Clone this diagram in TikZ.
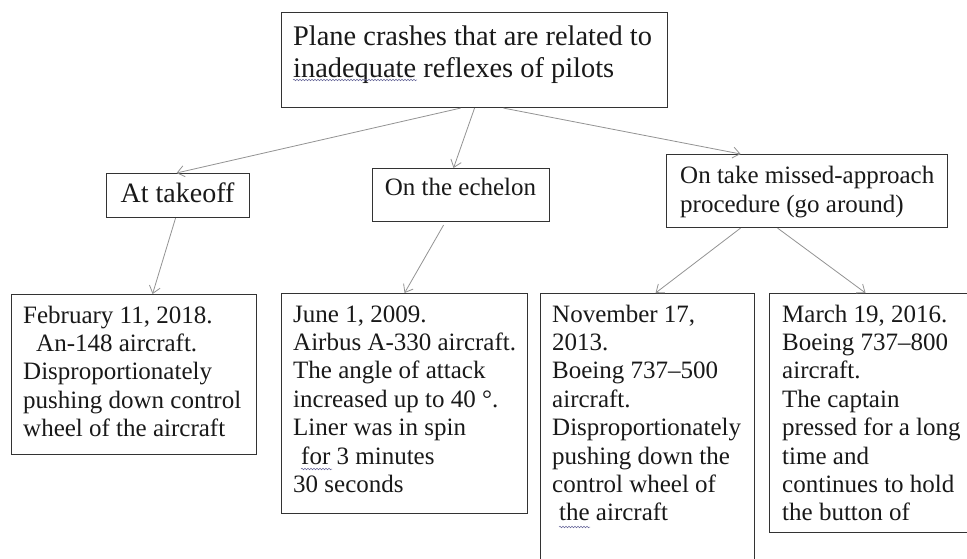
\documentclass[tikz,border=0pt]{standalone}
\usepackage{fontspec}
\setmainfont{Liberation Serif}
\usetikzlibrary{arrows.meta,decorations.pathmorphing}
\begin{document}
\begin{tikzpicture}[x=1pt,y=-1pt,
  boxst/.style={draw=black!80, line width=1.1pt, inner sep=0pt, anchor=north west},
  txtbig/.style={inner sep=0pt, anchor=north west, align=left, text=black!90, font=\fontsize{28.4}{32}\selectfont},
  txt/.style={inner sep=0pt, anchor=north west, align=left, text=black!90, font=\fontsize{25}{28.4}\selectfont},
  lbl/.style={inner sep=0pt, anchor=base, text=black!90},
  conn/.style={draw=gray!85, line width=0.8pt, -{Straight Barb[length=7pt,width=11pt]}},
  squig/.style={draw=gray!80!blue, line width=0.5pt, decorate, decoration={snake, amplitude=0.8pt, segment length=3pt}}
]
\useasboundingbox (0,0) rectangle (967,559);
\clip (0,0) rectangle (967,559);
\fill[white] (0,0) rectangle (967,559);

% boxes
\node[boxst, minimum width=386pt, minimum height=95pt] (top) at (281,12) {};
\node[boxst, minimum width=143pt, minimum height=44pt] (takeoff) at (106,173) {};
\node[boxst, minimum width=177pt, minimum height=53pt] (echelon) at (372,168) {};
\node[boxst, minimum width=281pt, minimum height=73pt] (goaround) at (666,154) {};
\node[boxst, minimum width=245pt, minimum height=160pt] (feb) at (11,294) {};
\node[boxst, minimum width=246pt, minimum height=220pt] (june) at (281,293) {};
\node[boxst, minimum width=214pt, minimum height=280pt] (nov) at (540,293) {};
\node[boxst, minimum width=210pt, minimum height=239pt] (mar) at (769,293) {};

% texts
\node[txtbig] (toptxt) at (293,22.6) {\strut Plane crashes that are related to\\inadequate reflexes of pilots};
\node[lbl, font=\fontsize{28}{32}\selectfont] (takeofftxt) at (177.5,203) {At takeoff};
\node[lbl, font=\fontsize{25}{28.4}\selectfont] (echelontxt) at (460.5,196) {On the echelon};
\node[txt, font=\fontsize{25}{29}\selectfont] (goaroundtxt) at (680,162.7) {\strut On take missed-approach\\procedure (go around)};
\node[txt] (febtxt) at (23,303.1) {\strut February 11, 2018.\\\hspace*{13pt}An-148 aircraft.\\Disproportionately\\pushing down control\\wheel of the aircraft};
\node[txt] (junetxt) at (293,302.1) {\strut June 1, 2009.\\Airbus A-330 aircraft.\\The angle of attack\\increased up to 40 °.\\Liner was in spin\\\hspace*{8pt}for 3 minutes\\30 seconds};
\node[txt] (novtxt) at (552,302.1) {\strut November 17,\\2013.\\Boeing 737–500\\aircraft.\\Disproportionately\\pushing down the\\control wheel of\\\hspace*{7pt}the aircraft};
\node[txt] (martxt) at (782,302.1) {\strut March 19, 2016.\\Boeing 737–800\\aircraft.\\The captain\\pressed for a long\\time and\\continues to hold\\the button of};

% proofing squiggles
\draw[squig] (293,80) -- (417,80);
\draw[squig] (301,469) -- (332,469);
\draw[squig] (559,527) -- (590,527);

% connectors
\draw[conn] ([xshift=-14pt]top.south) -- ([xshift=-1.5pt]takeoff.north);
\draw[conn] (top.south) -- ([xshift=-7.5pt]echelon.north);
\draw[conn] ([xshift=29pt]top.south) -- ([xshift=-66.5pt]goaround.north);
\draw[conn] ([xshift=-2.5pt]takeoff.south) -- ([xshift=18.5pt]feb.north);
\draw[conn] ([xshift=-17.5pt,yshift=-3pt]echelon.south) -- (june.north);
\draw[conn] ([xshift=-66.5pt]goaround.south) -- ([xshift=8pt]nov.north);
\draw[conn] ([xshift=-29.5pt]goaround.south) -- ([xshift=-9pt]mar.north);
\end{tikzpicture}
\end{document}
